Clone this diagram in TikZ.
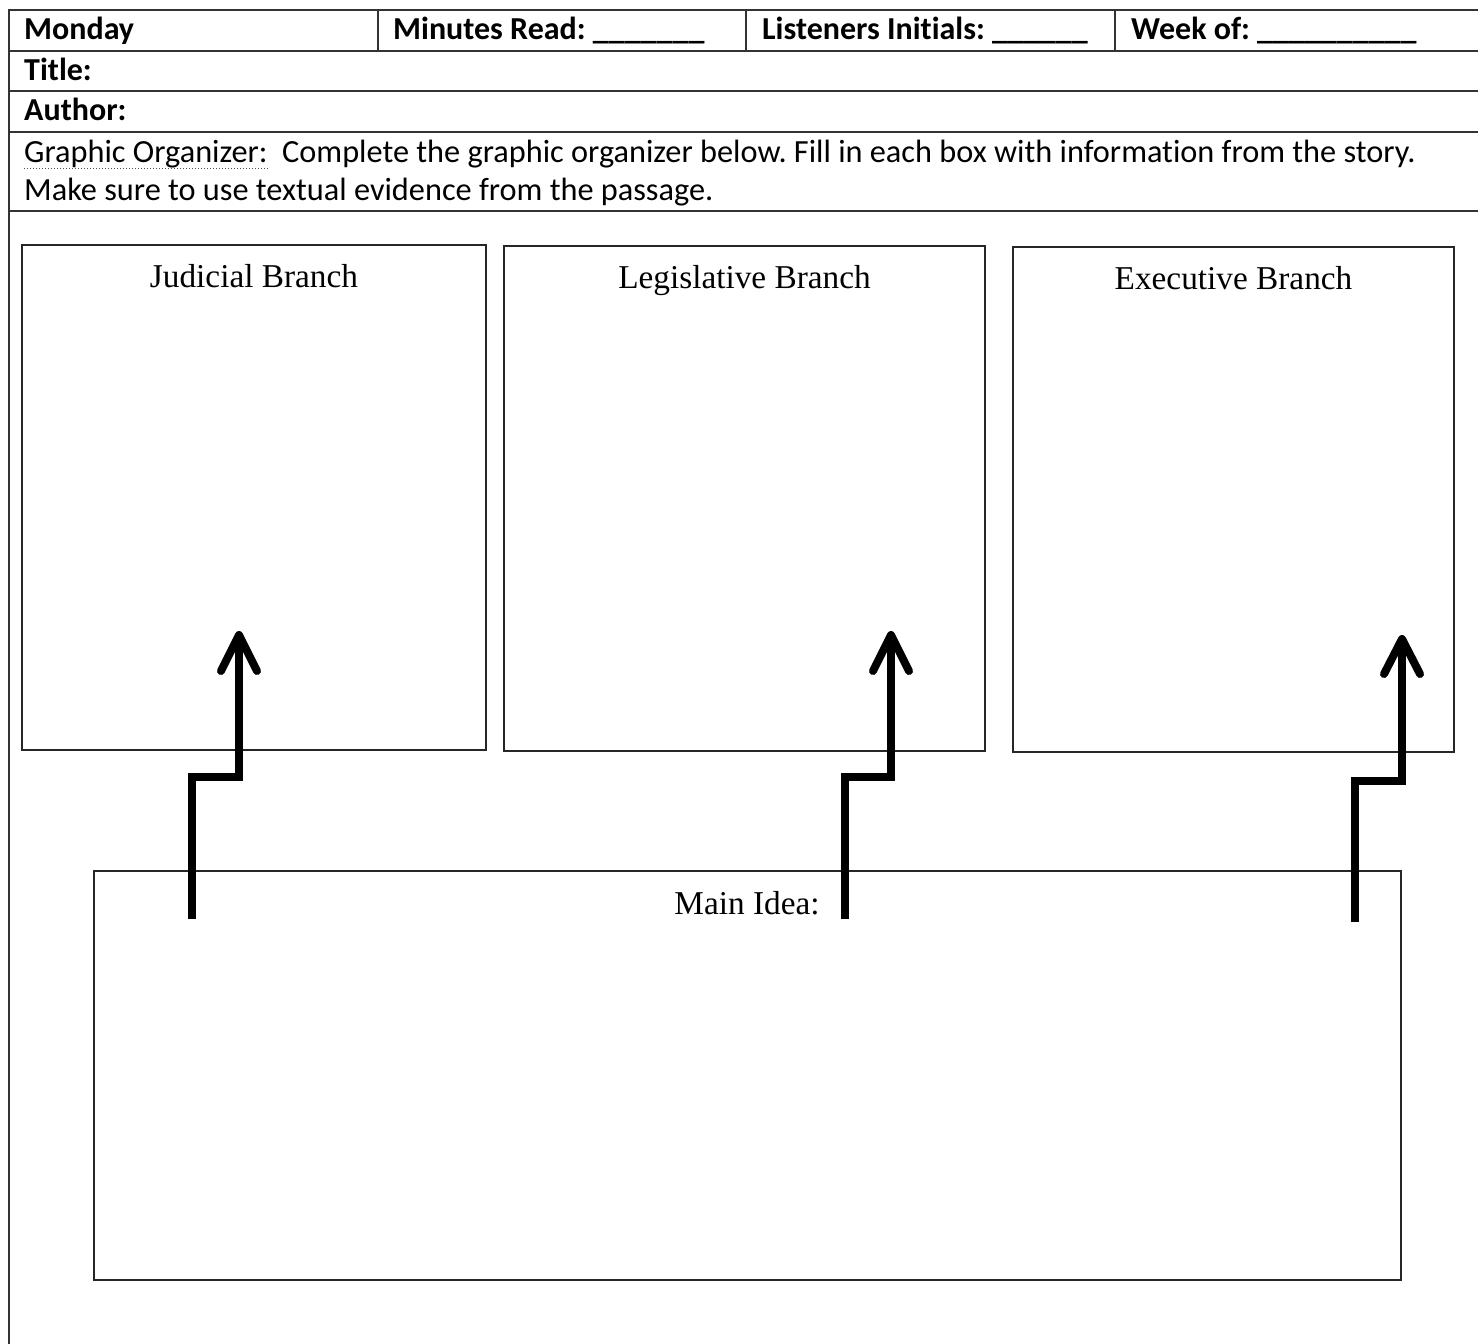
\documentclass[tikz,border=0pt]{standalone}
\usepackage{fontspec}
\setmainfont{Liberation Serif}
\newfontfamily\calib[Ligatures=NoCommon]{Carlito}
\frenchspacing
\begin{document}
\begin{tikzpicture}[x=1pt,y=-1pt,
  rule/.style={draw=black!80,line width=1.3pt},
  box/.style={draw=black!85,line width=1.3pt,inner sep=0pt},
  hdr/.style={anchor=base west,inner sep=0pt,font=\calib\bfseries\fontsize{32}{38}\selectfont},
  inst/.style={anchor=base west,inner sep=0pt,font=\calib\fontsize{32.3}{38}\selectfont},
  lab/.style={anchor=base,inner sep=0pt,font=\fontsize{33.3}{38}\selectfont},
  arr/.style={line width=8pt,line join=miter,line cap=butt},
  wing/.style={line width=8pt,line join=round,line cap=round}]
\useasboundingbox (0,0) rectangle (1478,1344);
\fill[white] (0,0) rectangle (1478,1344);
% header table
\draw[rule] (1478,10) -- (9,10) -- (9,1344);
\foreach \y in {51,91,132,211} \draw[rule] (9,\y) -- (1478,\y);
\foreach \x in {378,746,1115} \draw[rule] (\x,10) -- (\x,51);
\node[hdr] (mon) at (24,39) {Monday};
\node[hdr] (min) at (393,39) {Minutes Read: \_\_\_\_\_\_\_};
\node[hdr] (lis) at (762,39) {Listeners Initials: \_\_\_\_\_\_};
\node[hdr] (wk) at (1131,39) {Week of: \_\_\_\_\_\_\_\_\_\_};
\node[hdr] (tit) at (24,80) {Title:};
\node[hdr] (aut) at (24,120) {Author:};
\node[inst] (go1) at (24,162) {Graphic Organizer:\ \ Complete the graphic organizer below. Fill in each box with information from the story.};
\node[inst] (go2) at (24,200) {Make sure to use textual evidence from the passage.};
\draw[black!70,line width=1pt,dotted] (24,168) -- (268,168);
% boxes
\node[box,minimum width=464pt,minimum height=505pt] (jud) at (254,497.5) {};
\node[box,minimum width=481pt,minimum height=505pt] (leg) at (744.5,498.5) {};
\node[box,minimum width=441pt,minimum height=505pt] (exe) at (1233.5,499.5) {};
\node[box,minimum width=1307pt,minimum height=409pt] (main) at (747.5,1075.5) {};
\node[lab] (judl) at (254,287) {Judicial Branch};
\node[lab] (legl) at (744.5,288) {Legislative Branch};
\node[lab] (exel) at (1233.5,289) {Executive Branch};
\node[lab] (mainl) at (747,914) {Main Idea:};
% arrows
\coordinate (a1s) at (192,919);
\coordinate (a1t) at (239,635);
\coordinate (a2s) at (845,919);
\coordinate (a2t) at (891,635);
\coordinate (a3s) at (1355,922);
\coordinate (a3t) at (1402,639);
\draw[arr] (a1s) -- (192,777) -- (239,777) -- (a1t);
\draw[wing] (221,671) -- (a1t) -- (257,671);
\draw[arr] (a2s) -- (845,777) -- (891,777) -- (a2t);
\draw[wing] (873,671) -- (a2t) -- (909,671);
\draw[arr] (a3s) -- (1355,781) -- (1402,781) -- (a3t);
\draw[wing] (1384,674) -- (a3t) -- (1420,674);
\end{tikzpicture}
\end{document}
